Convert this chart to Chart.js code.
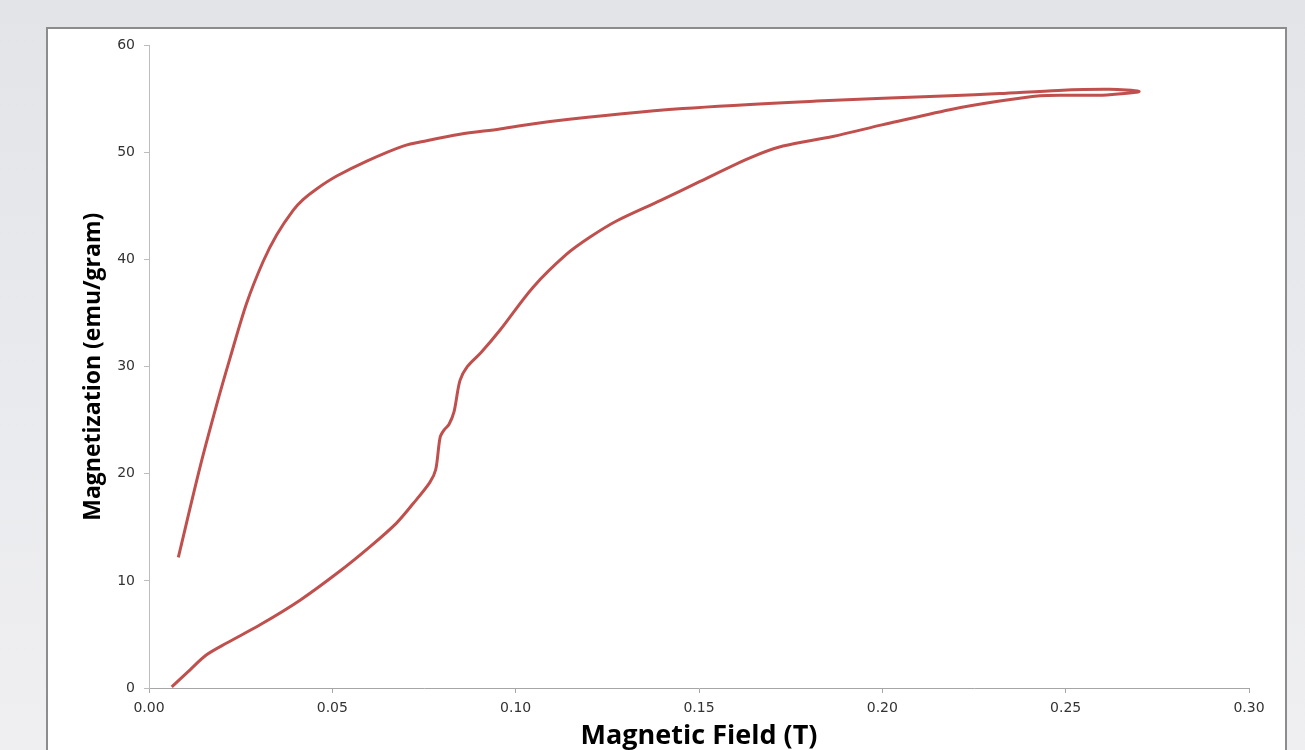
<!DOCTYPE html>
<html>
<head>
<meta charset="utf-8">
<script src="https://cdn.jsdelivr.net/npm/chart.js@4.4.1/dist/chart.umd.min.js"></script>
<style>
  html, body { margin: 0; padding: 0; }
  body {
    width: 1305px; height: 750px; overflow: hidden; position: relative;
    background: linear-gradient(to bottom, #e3e4e8 0%, #eaebee 60%, #efeff1 100%);
  }
  #panel {
    position: absolute; left: 46px; top: 27px; width: 1237px; height: 760px;
    background: #fff; border: 2px solid #8c8c8c;
  }
  #wrap { position: absolute; left: 47px; top: 28px; width: 1238px; height: 722px; }
</style>
</head>
<body>
<div id="panel"></div>
<div id="wrap"><canvas id="mh-chart"></canvas></div>
<script>
// hysteresis loop: lower branch up to the tip, then upper branch back
const fieldT = [
  0.0062, 0.0112, 0.0157, 0.0212, 0.0303, 0.0412, 0.0520, 0.0603, 0.0675, 0.0720,
  0.0766, 0.0782, 0.0794, 0.0805, 0.0818, 0.0832, 0.0848, 0.0868, 0.0905, 0.0957,
  0.1047, 0.1139, 0.1203, 0.1275, 0.1394, 0.1503, 0.1639, 0.1729, 0.1865, 0.2002,
  0.2184, 0.2320, 0.2430, 0.2500, 0.2600, 0.2660, 0.2700,
  0.2620, 0.2480, 0.2320, 0.2184, 0.1821, 0.1456, 0.1094, 0.0957, 0.0848,
  0.0757, 0.0693, 0.0594, 0.0512, 0.0457, 0.0420, 0.0393, 0.0348, 0.0311, 0.0266,
  0.0221, 0.0185, 0.0139, 0.0080
];
const magnetization = [
  0.1, 1.7, 3.1, 4.2, 5.9, 8.2, 10.9, 13.2, 15.4, 17.2,
  19.2, 20.4, 23.4, 24.1, 24.6, 25.8, 28.7, 30.0, 31.3, 33.4,
  37.4, 40.5, 42.1, 43.6, 45.5, 47.3, 49.5, 50.6, 51.5, 52.6,
  54.0, 54.8, 55.3, 55.35, 55.35, 55.5, 55.7,
  55.9, 55.8, 55.5, 55.3, 54.8, 54.1, 52.9, 52.2, 51.7,
  51.1, 50.6, 49.2, 47.8, 46.6, 45.6, 44.6, 42.3, 39.8, 35.9,
  30.8, 26.5, 20.6, 12.2
];
const xTicks = ['0.00', '0.05', '0.10', '0.15', '0.20', '0.25', '0.30'];
const yTicks = ['0', '10', '20', '30', '40', '50', '60'];

const points = fieldT.map((x, i) => ({ x: x, y: magnetization[i] }));

const tickFont = { family: 'DejaVu Sans', size: 14 };

new Chart(document.getElementById('mh-chart').getContext('2d'), {
    type: 'scatter',
    data: {
        datasets: [{
            label: 'Magnetization',
            data: points,
            showLine: true,
            borderColor: '#c0504d',
            borderWidth: 3,
            pointRadius: 0,
            tension: 0.3,
            fill: false
        }]
    },
    options: {
        responsive: true,
        maintainAspectRatio: false,
        animation: false,
        layout: { padding: { top: 16, right: 36, left: 0, bottom: 0 } },
        plugins: { legend: { display: false }, tooltip: { enabled: false } },
        scales: {
            x: {
                type: 'linear',
                min: 0, max: 0.3,
                afterBuildTicks: (scale) => { scale.ticks = xTicks.map(t => ({ value: parseFloat(t) })); },
                afterFit: (scale) => { scale.height = 62; },
                ticks: {
                    font: tickFont, color: '#333', padding: 7,
                    maxRotation: 0,
                    callback: (v) => Number(v).toFixed(2)
                },
                grid: { drawOnChartArea: false, drawTicks: true, tickLength: 5, color: '#a6a6a6' },
                border: { color: '#a6a6a6', width: 1 },
                title: {
                    display: true, text: 'Magnetic Field (T)', color: '#000', padding: 0,
                    font: { family: 'Open Sans', size: 27, weight: 'bold', lineHeight: 1 }
                }
            },
            y: {
                type: 'linear',
                min: 0, max: 60,
                afterBuildTicks: (scale) => { scale.ticks = yTicks.map(t => ({ value: parseFloat(t) })); },
                afterFit: (scale) => { scale.width = 102; },
                ticks: { font: tickFont, color: '#333', padding: 9 },
                grid: { drawOnChartArea: false, drawTicks: true, tickLength: 5, color: '#bdbdbd' },
                border: { color: '#bdbdbd', width: 1 },
                title: {
                    display: true, text: 'Magnetization (emu/gram)', color: '#000',
                    padding: { top: 35, bottom: 0 },
                    font: { family: 'Open Sans', size: 23, weight: 'bold', lineHeight: 1 }
                }
            }
        }
    }
});
</script>
</body>
</html>
